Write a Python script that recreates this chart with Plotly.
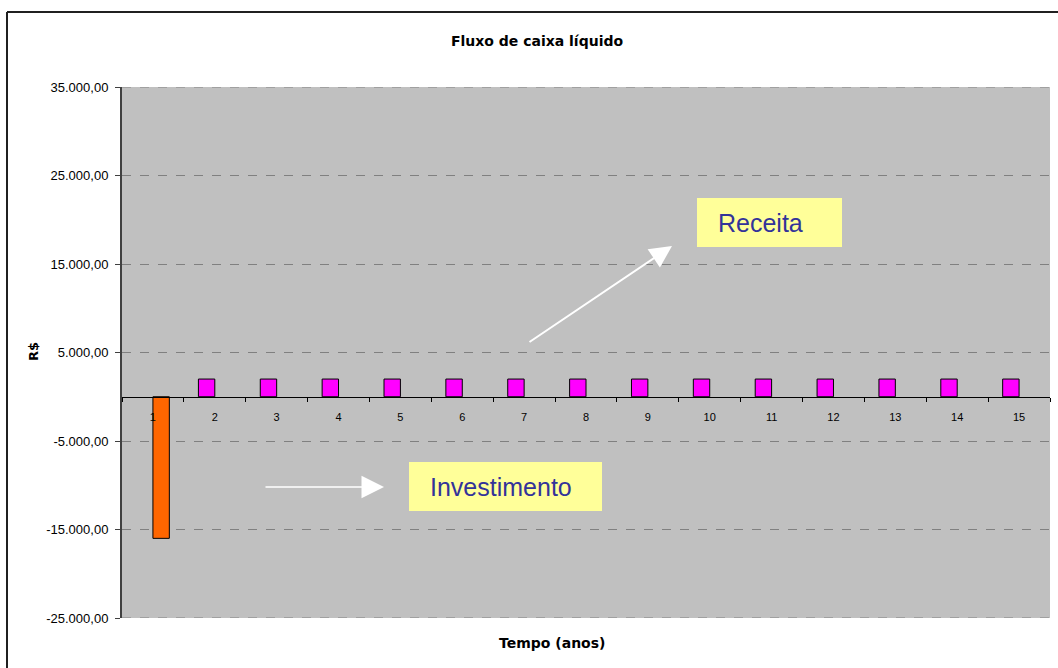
import plotly.graph_objects as go

# ---- data ----
anos = [str(i) for i in range(1, 16)]
receita = [None, 2000, 2000, 2000, 2000, 2000, 2000, 2000, 2000, 2000, 2000, 2000, 2000, 2000, 2000]
investimento = [-16000, None, None, None, None, None, None, None, None, None, None, None, None, None, None]
y_ticks = [-25000, -15000, -5000, 5000, 15000, 25000, 35000]
y_min, y_max = -25000, 35000


def fmt_br(v):
    s = f"{abs(v):,.2f}".replace(",", "X").replace(".", ",").replace("X", ".")
    return ("-" if v < 0 else "") + s


y_ticktext = [fmt_br(v) for v in y_ticks]

W, H = 1058, 668
L, R, T, B = 122, 1050, 87, 618


def xp(px):
    return (px - L) / (R - L)


def yp(py):
    return (B - py) / (B - T)


FONT = "Liberation Sans, Arial, sans-serif"
BOLD = "DejaVu Sans, Verdana, sans-serif"

fig = go.Figure()
fig.add_trace(go.Bar(x=anos, y=receita, name="Receita",
                     marker=dict(color="#FF00FF", line=dict(color="#000000", width=1))))
fig.add_trace(go.Bar(x=anos, y=investimento, name="Investimento",
                     marker=dict(color="#FF6600", line=dict(color="#000000", width=1))))

fig.update_layout(
    width=W, height=H,
    margin=dict(l=L, r=W - R, t=T, b=H - B),
    paper_bgcolor="white", plot_bgcolor="#C0C0C0",
    barmode="group", bargap=0.47, bargroupgap=0,
    showlegend=False,
    separators=",.",
    font=dict(family=FONT, color="#000000"),
    title=dict(text="<b>Fluxo de caixa líquido</b>", xref="container", x=537 / W, xanchor="center",
               yref="container", y=1 - 41 / H, yanchor="middle", font=dict(size=14, family=BOLD)),
)

fig.update_xaxes(
    type="category", categoryorder="array", categoryarray=anos,
    anchor="free", position=(0 - y_min) / (y_max - y_min),
    showline=True, linecolor="#000000", linewidth=1,
    ticks="outside", ticklen=4, tickcolor="#000000", tickwidth=1,
    tickson="boundaries", showgrid=False, zeroline=False,
    tickfont=dict(size=11, family=FONT), ticklabelstandoff=10,
)

fig.update_yaxes(
    range=[y_min, y_max], tickvals=y_ticks, ticktext=y_ticktext,
    showline=True, linecolor="#404040", linewidth=2,
    ticks="outside", ticklen=5, tickcolor="#404040",
    showgrid=True, gridcolor="#808080", gridwidth=1, griddash="dash",
    zeroline=False, tickfont=dict(size=13, family=FONT), ticklabelstandoff=4,
)

shapes = [
    # outer chart frame (left and top edges; right/bottom lie outside the picture)
    dict(type="line", xref="paper", yref="paper",
         x0=xp(7), x1=xp(7), y0=yp(12), y1=yp(700),
         line=dict(color="#202020", width=2), layer="below"),
    dict(type="line", xref="paper", yref="paper",
         x0=xp(7), x1=xp(1100), y0=yp(12), y1=yp(12),
         line=dict(color="#202020", width=2), layer="below"),
    # edge gridlines at the axis range ends
    dict(type="line", xref="paper", yref="y", x0=0, x1=1, y0=y_max, y1=y_max,
         line=dict(color="#808080", width=1, dash="dash")),
    dict(type="line", xref="paper", yref="y", x0=0, x1=1, y0=y_min, y1=y_min,
         line=dict(color="#808080", width=1, dash="dash")),
    # annotation boxes
    dict(type="rect", xref="paper", yref="paper",
         x0=xp(697), x1=xp(842), y0=yp(247), y1=yp(198),
         line=dict(width=0), fillcolor="#FFFF99"),
    dict(type="rect", xref="paper", yref="paper",
         x0=xp(409), x1=xp(602), y0=yp(511), y1=yp(462),
         line=dict(width=0), fillcolor="#FFFF99"),
]
fig.update_layout(shapes=shapes)

annotations = [
    dict(text="<b>R$</b>", xref="paper", yref="paper", x=xp(33), y=yp(352),
         showarrow=False, textangle=-90, font=dict(size=13, family=BOLD),
         xanchor="center", yanchor="middle"),
    dict(text="<b>Tempo (anos)</b>", xref="paper", yref="paper", x=xp(552), y=yp(643),
         showarrow=False, font=dict(size=14, family=BOLD),
         xanchor="center", yanchor="middle"),
    dict(text="Receita", xref="paper", yref="paper", x=xp(716), y=yp(223),
         showarrow=False, font=dict(size=25, family=FONT, color="#333399"),
         xanchor="left", yanchor="middle"),
    dict(text="Investimento", xref="paper", yref="paper", x=xp(428), y=yp(487),
         showarrow=False, font=dict(size=25, family=FONT, color="#333399"),
         xanchor="left", yanchor="middle"),
    # arrows
    dict(text="", xref="paper", yref="paper", x=xp(672), y=yp(246),
         ax=528 - 672, ay=343 - 246, showarrow=True,
         arrowcolor="#FFFFFF", arrowwidth=2, arrowhead=2, arrowsize=2.2),
    dict(text="", xref="paper", yref="paper", x=xp(384), y=yp(487),
         ax=264 - 384, ay=0, showarrow=True,
         arrowcolor="#FFFFFF", arrowwidth=1.5, arrowhead=2, arrowsize=3),
]
fig.update_layout(annotations=annotations)

fig.write_html("out.html")
